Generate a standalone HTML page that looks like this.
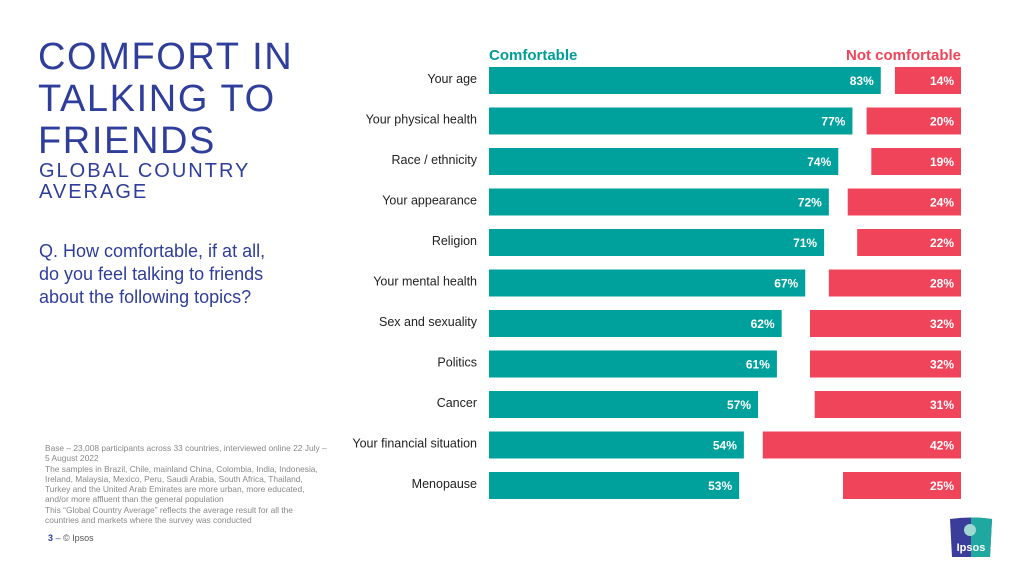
<!DOCTYPE html>
<html><head><meta charset="utf-8"><style>
body{margin:0;width:1024px;height:576px;background:#fff;font-family:"Liberation Sans",Arial,sans-serif;position:relative;overflow:hidden}
.abs{position:absolute}
</style></head><body>
<div class="abs" style="left:38px;top:36px;color:#2f3d9b;font-size:38px;line-height:42px;letter-spacing:1.6px">COMFORT IN<br>TALKING TO<br>FRIENDS</div>
<div class="abs" style="left:39px;top:161px;color:#2f3d9b;font-size:20px;line-height:21px;letter-spacing:2px">GLOBAL COUNTRY<br>AVERAGE</div>
<div class="abs" style="left:39px;top:240px;color:#2f3d9b;font-size:18px;line-height:23px">Q. How comfortable, if at all,<br>do you feel talking to friends<br>about the following topics?</div>
<div class="abs" style="left:45px;top:443px;color:#888;font-size:8.4px;line-height:10.3px;width:282px">Base – 23,008 participants across 33 countries, interviewed online 22 July – 5 August 2022<br>The samples in Brazil, Chile, mainland China, Colombia, India, Indonesia, Ireland, Malaysia, Mexico, Peru, Saudi Arabia, South Africa, Thailand, Turkey and the United Arab Emirates are more urban, more educated, and/or more affluent than the general population<br>This “Global Country Average” reflects the average result for all the countries and markets where the survey was conducted</div>
<div class="abs" style="left:48px;top:533px;font-size:9px;color:#2f3d9b"><b>3</b> – <span style="color:#555">© Ipsos</span></div>
<svg class="abs" style="left:950px;top:517px" width="42" height="40">
<path d="M0 2 Q21 -1 42 2 L40 40 L2 40 Z" fill="#3a3d99"/>
<path d="M21 0.5 Q32 0.5 42 2 L40 40 L21 40 Z" fill="#1fa89f"/>
<circle cx="20" cy="13" r="6" fill="#9fd8d2"/>
<text x="21" y="34" font-size="11" font-weight="bold" fill="#fff" text-anchor="middle" font-family="Liberation Sans">Ipsos</text>
</svg>
<svg class="abs" style="left:0;top:0" width="1024" height="576" id="chart"></svg>
<script>
const categories=["Your age","Your physical health","Race / ethnicity","Your appearance","Religion","Your mental health","Sex and sexuality","Politics","Cancer","Your financial situation","Menopause"];
const comfortable=[83,77,74,72,71,67,62,61,57,54,53];
const notComfortable=[14,20,19,24,22,28,32,32,31,42,25];
const svg=document.getElementById('chart');
const NS='http://www.w3.org/2000/svg';
const x0=489,xR=961,k=4.72,y0=67,step=40.5,bh=27;
function xs(v){return v*k;}
function mk(tag,attrs){const e=document.createElementNS(NS,tag);for(const a in attrs)e.setAttribute(a,attrs[a]);svg.appendChild(e);return e;}
let t=mk('text',{x:x0,y:60,'font-size':15,'font-weight':'bold',fill:'#009e99','font-family':'Liberation Sans'});t.textContent='Comfortable';


t=mk('text',{x:xR,y:60,'font-size':15,'font-weight':'bold',fill:'#ef4459','text-anchor':'end','font-family':'Liberation Sans'});t.textContent='Not comfortable';


categories.forEach((c,i)=>{
 const y=y0+i*step;
 let l=mk('text',{x:477,y:y+bh/2+2.5,'font-size':12.5,fill:'#222','text-anchor':'end','font-family':'Liberation Sans'});l.textContent=c;
 
 
 const w=xs(comfortable[i]);
 let r=mk('rect',{x:x0,y:y,width:w,height:bh,fill:'#00a09c'});
 
 
 let v=mk('text',{x:x0+w-7,y:y+bh/2+4.5,'font-size':12,'font-weight':'bold',fill:'#fff','text-anchor':'end','font-family':'Liberation Sans'});v.textContent=comfortable[i]+'%';
 
 
 const w2=xs(notComfortable[i]);
 r=mk('rect',{x:xR-w2,y:y,width:w2,height:bh,fill:'#ef4459'});
 
 
 v=mk('text',{x:xR-7,y:y+bh/2+4.5,'font-size':12,'font-weight':'bold',fill:'#fff','text-anchor':'end','font-family':'Liberation Sans'});v.textContent=notComfortable[i]+'%';
 
 
});
</script>
</body></html>
